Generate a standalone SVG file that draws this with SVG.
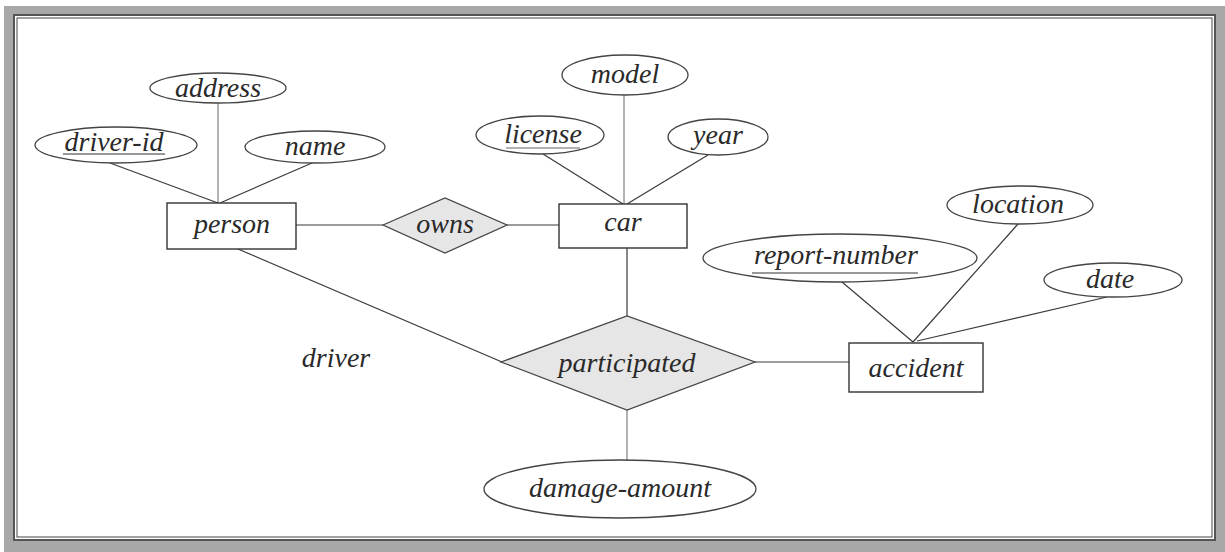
<svg xmlns="http://www.w3.org/2000/svg" width="1225" height="552" viewBox="0 0 1225 552">
<style>
.t{font-family:"Liberation Serif","Times New Roman",serif;font-style:italic;font-size:28px;fill:#2a2a2a;text-anchor:middle}
.ell{fill:#fff;stroke:#444;stroke-width:1.3}
.ent{fill:#fff;stroke:#333;stroke-width:1.4}
.rel{fill:#e6e6e6;stroke:#444;stroke-width:1.3}
.c{stroke:#3a3a3a;stroke-width:1.2;fill:none}
.cl{stroke:#9a9a9a;stroke-width:1.5;fill:none}
.u{stroke:#333;stroke-width:1.2}
</style>
<rect x="0" y="0" width="1225" height="552" fill="#fff"/>
<rect x="4" y="6" width="1221" height="546" fill="#a8a8a8"/>
<rect x="14" y="15" width="1201" height="525" fill="#fff" stroke="#555" stroke-width="2"/>
<rect x="17" y="18" width="1195" height="519" fill="#fff" stroke="#444" stroke-width="1"/>
<g id="connectors">
<line class="cl" x1="218" y1="102" x2="218" y2="203"/>
<line class="c" x1="110" y1="163" x2="218" y2="203"/>
<line class="c" x1="312" y1="163" x2="220" y2="203"/>
<line class="c" x1="296" y1="225" x2="383" y2="225"/>
<line class="c" x1="507" y1="225" x2="559" y2="225"/>
<line class="cl" x1="624" y1="95" x2="624" y2="204"/>
<line class="c" x1="543" y1="154" x2="623" y2="204"/>
<line class="c" x1="708" y1="155" x2="627" y2="204"/>
<line class="c" x1="627" y1="248" x2="627" y2="316"/>
<line class="c" x1="238" y1="249" x2="502" y2="362"/>
<line class="c" x1="755" y1="362" x2="849" y2="362"/>
<line class="cl" x1="627" y1="410" x2="627" y2="460"/>
<line class="c" x1="842" y1="282" x2="913" y2="342"/>
<line class="c" x1="1018" y1="224" x2="913" y2="342"/>
<line class="c" x1="1107" y1="297" x2="917" y2="341"/>
</g>
<g id="address"><ellipse class="ell" cx="218" cy="88" rx="68" ry="15"/><text class="t" x="218" y="97">address</text></g>
<g id="driver-id"><ellipse class="ell" cx="116" cy="145" rx="81" ry="18"/><text class="t" x="114" y="151">driver-id</text><line class="u" x1="63" y1="154" x2="165" y2="154"/></g>
<g id="name"><ellipse class="ell" cx="315" cy="147" rx="70" ry="16"/><text class="t" x="315" y="155">name</text></g>
<g id="person"><rect class="ent" x="167" y="203" width="129" height="46"/><text class="t" x="232" y="233">person</text></g>
<g id="owns"><polygon class="rel" points="383,225 445,198 507,225 445,253"/><text class="t" x="445" y="233">owns</text></g>
<g id="model"><ellipse class="ell" cx="625" cy="75" rx="63" ry="20"/><text class="t" x="625" y="83">model</text></g>
<g id="license"><ellipse class="ell" cx="540" cy="135" rx="64" ry="19"/><text class="t" x="543" y="143">license</text><line x1="506" y1="148" x2="580" y2="148" stroke="#999" stroke-width="1.5"/></g>
<g id="year"><ellipse class="ell" cx="718" cy="137" rx="50" ry="18"/><text class="t" x="718" y="144">year</text></g>
<g id="car"><rect class="ent" x="559" y="204" width="128" height="44"/><text class="t" x="623" y="231">car</text></g>
<g id="participated"><polygon class="rel" points="501,362 627,316 755,362 627,410"/><text class="t" x="627" y="372">participated</text></g>
<g id="driver-label"><text class="t" x="336" y="367">driver</text></g>
<g id="damage-amount"><ellipse class="ell" cx="620" cy="489" rx="136" ry="29"/><text class="t" x="620" y="497">damage-amount</text></g>
<g id="report-number"><ellipse class="ell" cx="840" cy="258" rx="137" ry="24"/><text class="t" x="836" y="264">report-number</text><line class="u" x1="752" y1="273" x2="918" y2="273"/></g>
<g id="location"><ellipse class="ell" cx="1020" cy="205" rx="73" ry="19"/><text class="t" x="1018" y="213">location</text></g>
<g id="date"><ellipse class="ell" cx="1113" cy="280" rx="69" ry="17"/><text class="t" x="1110" y="288">date</text></g>
<g id="accident"><rect class="ent" x="849" y="343" width="134" height="49"/><text class="t" x="916" y="377">accident</text></g>
</svg>
